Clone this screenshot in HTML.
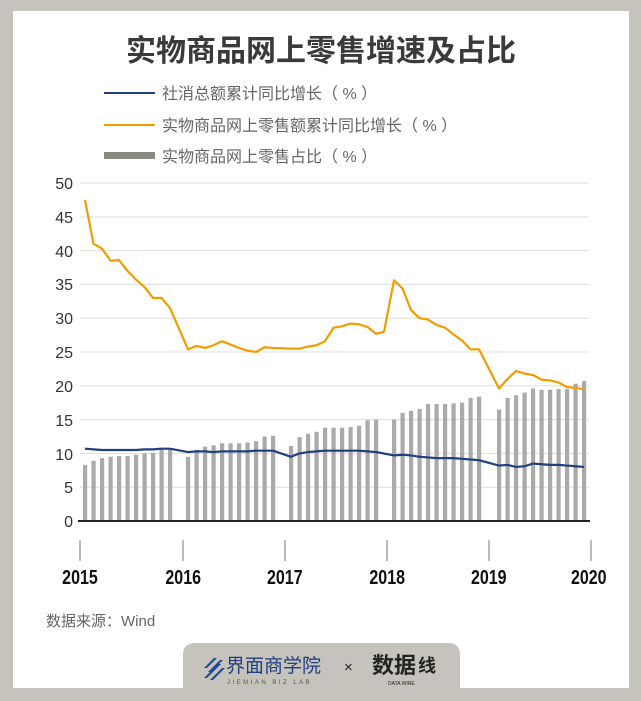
<!DOCTYPE html>
<html><head><meta charset="utf-8"><style>
body{margin:0;width:641px;height:701px;overflow:hidden;background:#c6c2bc;}
svg{display:block}
</style></head><body>
<svg width="641" height="701" viewBox="0 0 641 701" xmlns="http://www.w3.org/2000/svg" font-family="Liberation Sans, Noto Sans CJK SC, sans-serif">
<rect x="0" y="0" width="641" height="701" fill="#c6c2bc"/>
<rect x="13" y="11" width="616" height="677" fill="#fff"/>
<path d="M183 688 L183 655 Q183 643 195 643 L448 643 Q460 643 460 655 L460 688 Z" fill="#c6c2bc"/>
<text x="321" y="61" text-anchor="middle" font-size="30" font-weight="bold" fill="#3a3a3a">实物商品网上零售增速及占比</text>
<line x1="104" y1="93" x2="155" y2="93" stroke="#1f3f7f" stroke-width="2"/>
<text x="162" y="99" font-size="16" fill="#666">社消总额累计同比增长（ % ）</text>
<line x1="104" y1="125" x2="155" y2="125" stroke="#f29c00" stroke-width="2"/>
<text x="162" y="131" font-size="16" fill="#666">实物商品网上零售额累计同比增长（ % ）</text>
<rect x="104" y="152" width="51" height="7" fill="#8a8a84"/>
<text x="162" y="162" font-size="16" fill="#666">实物商品网上零售占比（ % ）</text>
<g stroke="#ddd" stroke-width="1">
<line x1="80" y1="183" x2="589" y2="183"/><line x1="80" y1="250.6" x2="589" y2="250.6"/><line x1="80" y1="318.2" x2="589" y2="318.2"/><line x1="80" y1="385.8" x2="589" y2="385.8"/><line x1="80" y1="453.4" x2="589" y2="453.4"/>
<line x1="80" y1="217" x2="589" y2="217"/><line x1="80" y1="284.4" x2="589" y2="284.4"/><line x1="80" y1="352" x2="589" y2="352"/><line x1="80" y1="419.6" x2="589" y2="419.6"/><line x1="80" y1="487.2" x2="589" y2="487.2"/>
</g>
<g font-size="16" fill="#333" text-anchor="end">
<text x="73" y="189">50</text><text x="73" y="223">45</text><text x="73" y="257">40</text><text x="73" y="290">35</text><text x="73" y="324">30</text><text x="73" y="358">25</text><text x="73" y="392">20</text><text x="73" y="426">15</text><text x="73" y="460">10</text><text x="73" y="493">5</text><text x="73" y="527">0</text>
</g>
<g id="bars" fill="#aaa"></g>
<line x1="78" y1="521" x2="590" y2="521" stroke="#222" stroke-width="2"/>
<g stroke="#777" stroke-width="1">
<line x1="80" y1="540" x2="80" y2="561"/><line x1="183" y1="540" x2="183" y2="561"/><line x1="285" y1="540" x2="285" y2="561"/><line x1="387" y1="540" x2="387" y2="561"/><line x1="489" y1="540" x2="489" y2="561"/><line x1="591" y1="540" x2="591" y2="561"/>
</g>
<g font-size="20" font-weight="bold" fill="#111" text-anchor="middle" transform="scale(0.8,1)">
<text x="100" y="584">2015</text><text x="229" y="584">2016</text><text x="356" y="584">2017</text><text x="484" y="584">2018</text><text x="611" y="584">2019</text><text x="736" y="584">2020</text>
</g>
<polyline id="orange" fill="none" stroke="#f29c00" stroke-width="2.2" stroke-linejoin="round" points=""/>
<polyline id="navy" fill="none" stroke="#1f3f7f" stroke-width="2.2" stroke-linejoin="round" points=""/>
<text x="46" y="626" font-size="15" fill="#666">数据来源：Wind</text>
<g fill="#1f4a8f">
<path d="M204 668 l10 -10 l3 0 l-10 10z M208 672 l12 -12 l3 0 l-12 12z M204 678 l14 -14 l3 0 l-14 14z M210 680 l12 -12 l3 0 l-12 12z"/>
</g>
<text x="226" y="672" font-size="19" fill="#1f3f7f">界面商学院</text>
<text x="227" y="684" font-size="6" fill="#555" letter-spacing="2.5">JIEMIAN BIZ LAB</text>
<text x="344" y="672" font-size="15" fill="#222">×</text>
<text x="372" y="673" font-size="22" font-weight="bold" fill="#222">数据</text>
<text x="418" y="672" font-size="18" font-weight="bold" fill="#222">线</text>
<text x="388" y="685" font-size="5" fill="#222">DATA WIRE</text>
</svg>
<script>
function y(v){return 521-v*6.76;}
var starts=[85,188,291,394,499];
var bars=[[8.3,8.9,9.3,9.5,9.6,9.6,9.8,10.0,10.1,10.6,10.6],
[9.5,10.5,11.0,11.2,11.5,11.5,11.5,11.6,11.8,12.5,12.6],
[11.1,12.4,12.9,13.2,13.8,13.8,13.8,13.9,14.1,14.9,15.0],
[15.0,16.0,16.3,16.6,17.3,17.3,17.3,17.4,17.5,18.2,18.4],
[16.5,18.2,18.6,19.0,19.6,19.4,19.4,19.5,19.5,20.3,20.7]];
var nav=[[10.7,10.6,10.5,10.5,10.5,10.5,10.5,10.6,10.6,10.7,10.7],
[10.2,10.3,10.3,10.2,10.3,10.3,10.3,10.3,10.4,10.4,10.4],
[9.5,10.0,10.2,10.3,10.4,10.4,10.4,10.4,10.4,10.3,10.2],
[9.7,9.8,9.7,9.5,9.4,9.3,9.3,9.3,9.2,9.1,9.0],
[8.2,8.3,8.0,8.1,8.5,8.4,8.3,8.3,8.2,8.1,8.0]];
var org=[[47.5,41,40.3,38.5,38.6,37,35.7,34.6,33,33,31.5],
[25.4,25.9,25.6,26,26.6,26.1,25.6,25.2,25.0,25.7,25.6],
[25.5,25.5,25.8,26,26.6,28.6,28.8,29.2,29.1,28.7,27.7],
[35.6,34.4,31.2,30,29.8,29,28.6,27.6,26.7,25.4,25.4],
[19.6,21,22.2,21.8,21.6,20.9,20.8,20.5,19.8,19.7,19.5]];
var g=document.getElementById('bars'),h='',op=[],np=[];
for(var i=0;i<5;i++)for(var j=0;j<11;j++){var x=starts[i]+j*8.5;
h+='<rect x="'+(x-2)+'" y="'+y(bars[i][j])+'" width="4.2" height="'+(bars[i][j]*6.76)+'"/>';
op.push(x+','+y(org[i][j]));if(i==2&&j==10)op.push((x+8)+','+y(28.0));np.push(x+','+y(nav[i][j]));}
g.innerHTML=h;
document.getElementById('orange').setAttribute('points',op.join(' '));
document.getElementById('navy').setAttribute('points',np.join(' '));
</script>
</body></html>
